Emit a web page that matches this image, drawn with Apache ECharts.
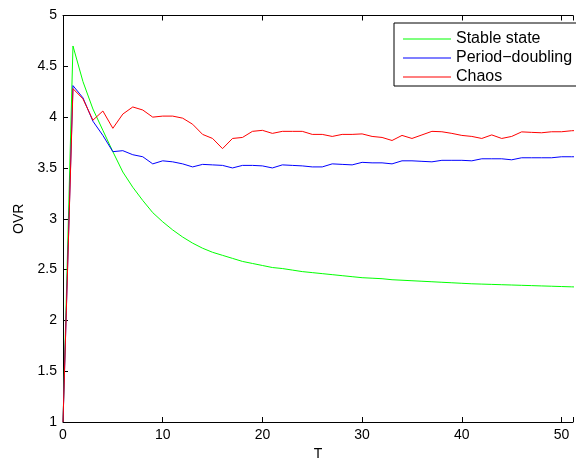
<!DOCTYPE html>
<html>
<head>
<meta charset="utf-8">
<script src="https://cdn.jsdelivr.net/npm/echarts@6/dist/echarts.min.js"></script>
<style>html,body{margin:0;padding:0;background:#fff;}#c{width:576px;height:466px;}</style>
</head>
<body>
<div id="c"></div>
<script>
var T = [0,1,2,3,4,5,6,7,8,9,10,11,12,13,14,15,16,17,18,19,20,21,22,23,24,25,26,27,28,29,30,31,32,33,34,35,36,37,38,39,40,41,42,43,44,45,46,47,48,49,50,51,52];
var stableState = [1.00,4.70,4.35,4.08,3.87,3.66,3.46,3.31,3.18,3.06,2.97,2.89,2.82,2.76,2.71,2.67,2.64,2.61,2.58,2.56,2.54,2.52,2.51,2.495,2.48,2.47,2.46,2.45,2.44,2.43,2.42,2.415,2.41,2.40,2.395,2.39,2.385,2.38,2.375,2.37,2.365,2.36,2.357,2.354,2.351,2.348,2.345,2.342,2.339,2.336,2.333,2.33,2.327];
var periodDoubling = [1.00,4.31,4.19,3.96,3.82,3.66,3.67,3.63,3.61,3.54,3.57,3.56,3.54,3.51,3.535,3.53,3.525,3.50,3.525,3.525,3.52,3.50,3.53,3.525,3.52,3.51,3.51,3.54,3.535,3.53,3.555,3.55,3.55,3.54,3.57,3.57,3.565,3.56,3.575,3.575,3.575,3.57,3.59,3.59,3.59,3.58,3.60,3.60,3.60,3.60,3.61,3.61,3.61];
var chaos = [1.00,4.28,4.18,3.97,4.06,3.89,4.03,4.10,4.07,4.00,4.01,4.01,3.99,3.93,3.83,3.79,3.69,3.79,3.80,3.86,3.87,3.84,3.86,3.86,3.86,3.83,3.83,3.81,3.83,3.83,3.835,3.81,3.80,3.77,3.82,3.79,3.825,3.86,3.856,3.84,3.82,3.81,3.79,3.825,3.79,3.81,3.855,3.85,3.846,3.856,3.856,3.866,3.87];
var seriesNames = ['Stable state', 'Period\u2212doubling', 'Chaos'];
var seriesColors = ['#00ff00', '#0000ff', '#ff0000'];

function pairs(arr){ return T.map(function(t,i){ return [t, arr[i]]; }); }

var FONT = '"Liberation Sans", Arial, sans-serif';
var chart = echarts.init(document.getElementById('c'), null, {renderer:'canvas'});
var xCommon = {
  type:'value', min:0, max:51.15, interval:10,
  axisLine:{show:true, onZero:false, lineStyle:{color:'#000', width:1}},
  axisTick:{show:true, inside:true, length:5, lineStyle:{color:'#000'}},
  splitLine:{show:false}
};
var ICON = 'path://M0,0L48,0L48,1L0,1Z';
chart.setOption({
  animation:false,
  backgroundColor:'#fff',
  color:seriesColors,
  grid:{left:63, top:15.5, right:0, bottom:39.7, containLabel:false},
  legend:{
    show:true, orient:'vertical', left:394, top:23,
    padding:[8,14,1,9], itemGap:3, itemWidth:48, itemHeight:14,
    borderColor:'#000', borderWidth:1, backgroundColor:'#fff',
    textStyle:{fontFamily:FONT, fontSize:16, color:'#000'},
    data:seriesNames.map(function(n,i){
      return {name:n, icon:ICON, itemStyle:{color:seriesColors[i], borderWidth:0}};
    })
  },
  xAxis:[
    Object.assign({}, xCommon, {
      position:'bottom', name:'T', nameLocation:'middle', nameGap:25,
      nameTextStyle:{fontFamily:FONT, fontSize:14, color:'#000', verticalAlign:'top'},
      axisLabel:{show:true, margin:6, fontFamily:FONT, fontSize:14, color:'#000',
        formatter:function(v){ return (Math.abs(v % 10) < 1e-9) ? String(v) : ''; }}
    }),
    Object.assign({}, xCommon, {position:'top', axisLabel:{show:false}})
  ],
  yAxis:{
    type:'value', min:1, max:5, interval:0.5,
    name:'OVR', nameLocation:'middle', nameGap:37,
    nameTextStyle:{fontFamily:FONT, fontSize:14, color:'#000'},
    axisLine:{show:true, lineStyle:{color:'#000', width:1}},
    axisTick:{show:true, inside:true, length:5, lineStyle:{color:'#000'}},
    axisLabel:{show:true, margin:6, fontFamily:FONT, fontSize:14, color:'#000'},
    splitLine:{show:false}
  },
  series:seriesNames.map(function(n,i){
    var d = [stableState, periodDoubling, chaos][i];
    return {name:n, type:'line', data:pairs(d), symbol:'none', clip:true, color:seriesColors[i],
      lineStyle:{color:seriesColors[i], width:1}, itemStyle:{color:seriesColors[i]}};
  })
});
</script>
</body>
</html>
